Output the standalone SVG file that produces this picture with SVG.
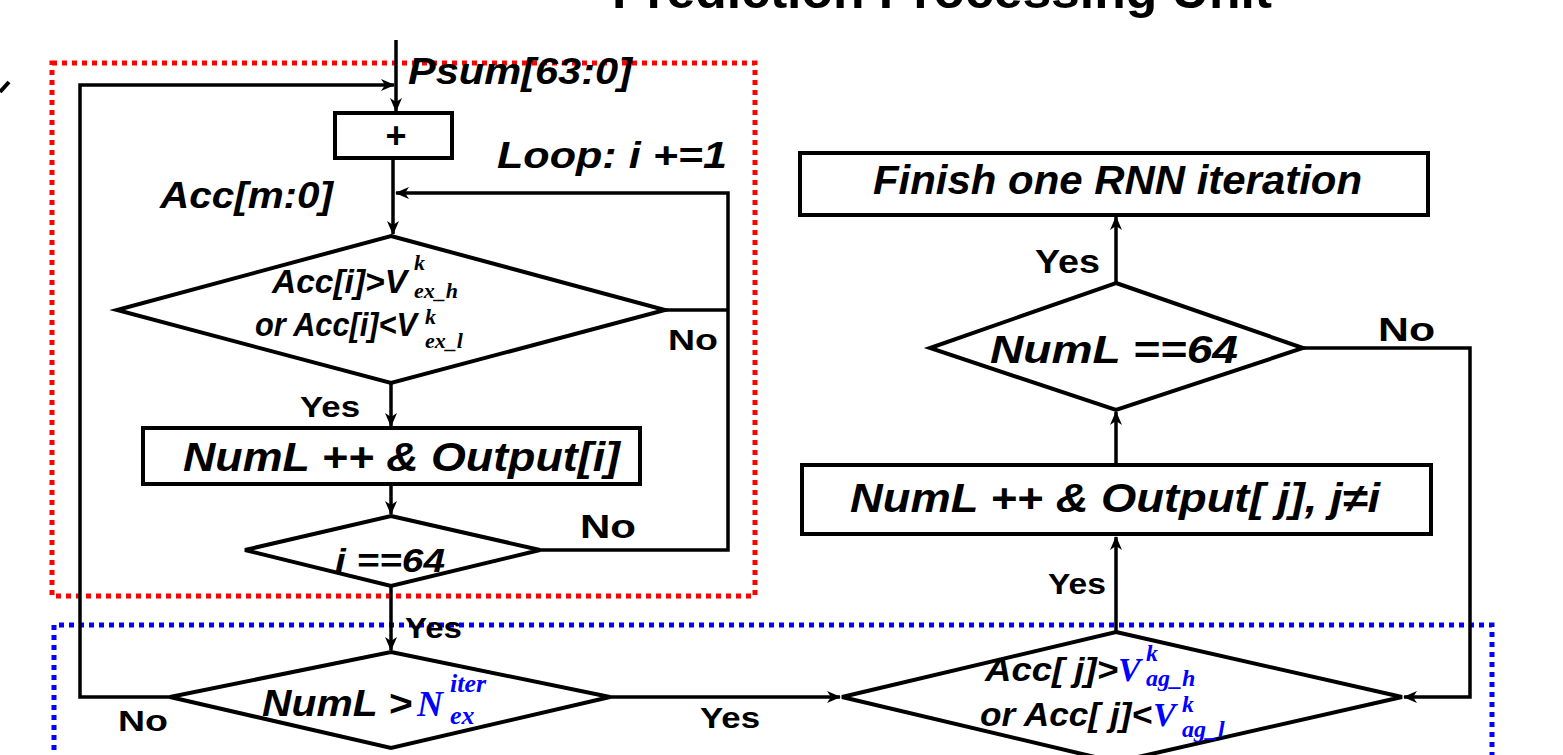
<svg xmlns="http://www.w3.org/2000/svg" width="1563" height="755" viewBox="0 0 1563 755">
<defs>
<marker id="arr" markerUnits="userSpaceOnUse" markerWidth="14" markerHeight="12" refX="13" refY="6" orient="auto">
<path d="M0,0 L14,6 L0,12 L4,6 z" fill="#000"/>
</marker>
<style>
.ln{fill:none;stroke:#000;stroke-width:3.5}
.nd{fill:#fff;stroke:#000;stroke-width:4}
.t{font-family:"Liberation Sans",Arial,sans-serif;font-weight:bold;font-style:italic;fill:#000}
.lb{font-family:"Liberation Sans",Arial,sans-serif;font-weight:bold;fill:#000}
.m{font-family:"Liberation Serif","Times New Roman",serif;font-style:italic;font-weight:bold}
.blue{fill:#0000ff}
.red{fill:none;stroke:#ff0000;stroke-width:5;stroke-dasharray:5 5}
.bl{fill:none;stroke:#0000ff;stroke-width:5;stroke-dasharray:5 5}
</style>
</defs>
<rect width="1563" height="755" fill="#fff"/>
<text class="lb" x="612" y="8" font-size="50" textLength="660" lengthAdjust="spacingAndGlyphs">Prediction Processing Unit</text>
<line x1="0" y1="92" x2="9" y2="82" stroke="#000" stroke-width="4"/>
<rect class="red" x="52" y="63" width="703" height="533"/>
<path class="bl" d="M54,760 V625 H1492 V760"/>
<g id="connectors">
<path class="ln" d="M396,40 V111" marker-end="url(#arr)"/>
<path class="ln" d="M170,697 H80 V85 H394" marker-end="url(#arr)"/>
<path class="ln" d="M393,158 V234" marker-end="url(#arr)"/>
<path class="ln" d="M540,550 H728 V193 H396" marker-end="url(#arr)"/>
<path class="ln" d="M665,310 H728"/>
<path class="ln" d="M391,383 V426" marker-end="url(#arr)"/>
<path class="ln" d="M391,484 V514" marker-end="url(#arr)"/>
<path class="ln" d="M391,586 V650" marker-end="url(#arr)"/>
<path class="ln" d="M610,697 H840" marker-end="url(#arr)"/>
<path class="ln" d="M1116,632 V537" marker-end="url(#arr)"/>
<path class="ln" d="M1116,465 V412" marker-end="url(#arr)"/>
<path class="ln" d="M1116,283 V217" marker-end="url(#arr)"/>
<path class="ln" d="M1303,348 H1470 V697 H1404" marker-end="url(#arr)"/>
<text class="t" x="408" y="84" font-size="36" textLength="224" lengthAdjust="spacingAndGlyphs">Psum[63:0]</text>
<text class="t" x="160" y="208" font-size="36" textLength="173" lengthAdjust="spacingAndGlyphs">Acc[m:0]</text>
<text class="t" x="497" y="168" font-size="36" textLength="230" lengthAdjust="spacingAndGlyphs">Loop: i +=1</text>
<text class="lb" x="668" y="350" font-size="30" textLength="50" lengthAdjust="spacingAndGlyphs">No</text>
<text class="lb" x="300" y="417" font-size="30" textLength="60" lengthAdjust="spacingAndGlyphs">Yes</text>
<text class="lb" x="580" y="538" font-size="34" textLength="56" lengthAdjust="spacingAndGlyphs">No</text>
<text class="lb" x="405" y="638" font-size="30" textLength="57" lengthAdjust="spacingAndGlyphs">Yes</text>
<text class="lb" x="118" y="731" font-size="30" textLength="50" lengthAdjust="spacingAndGlyphs">No</text>
<text class="lb" x="700" y="728" font-size="30" textLength="60" lengthAdjust="spacingAndGlyphs">Yes</text>
<text class="lb" x="1048" y="594" font-size="30" textLength="58" lengthAdjust="spacingAndGlyphs">Yes</text>
<text class="lb" x="1378" y="341" font-size="34" textLength="57" lengthAdjust="spacingAndGlyphs">No</text>
<text class="lb" x="1035" y="273" font-size="34" textLength="65" lengthAdjust="spacingAndGlyphs">Yes</text>
</g>
<g id="add">
<rect class="nd" x="335" y="113" width="117" height="45"/>
<text class="lb" x="396" y="148" font-size="36" text-anchor="middle">+</text>
</g>
<g id="cond-ex">
<polygon class="nd" points="391,236 665,310 391,383 117,310"/>
<text class="t" x="272" y="293" font-size="33" textLength="135" lengthAdjust="spacingAndGlyphs">Acc[i]&gt;V</text>
<text class="m" x="414" y="270" font-size="22">k</text>
<text class="m" x="414" y="298" font-size="22">ex_h</text>
<text class="t" x="255" y="336" font-size="33" textLength="162" lengthAdjust="spacingAndGlyphs">or Acc[i]&lt;V</text>
<text class="m" x="425" y="324" font-size="22">k</text>
<text class="m" x="425" y="348" font-size="22">ex_l</text>
</g>
<g id="out-i">
<rect class="nd" x="143" y="428" width="497" height="56"/>
<text class="t" x="183" y="471" font-size="40" textLength="437" lengthAdjust="spacingAndGlyphs">NumL ++ &amp; Output[i]</text>
</g>
<g id="cond-i64">
<polygon class="nd" points="391,516 540,550 391,586 245,550"/>
<text class="t" x="335" y="572" font-size="33" textLength="110" lengthAdjust="spacingAndGlyphs">i ==64</text>
</g>
<g id="cond-numl">
<polygon class="nd" points="391,652 610,697 391,748 170,697"/>
<text class="t" x="262" y="716" font-size="36" textLength="150" lengthAdjust="spacingAndGlyphs">NumL &gt;</text>
<text class="m blue" x="417" y="716" font-size="36">N</text>
<text class="m blue" x="450" y="692" font-size="26">iter</text>
<text class="m blue" x="450" y="724" font-size="26">ex</text>
</g>
<g id="cond-ag">
<polygon class="nd" points="1116,632 1402,697 1116,762 842,697"/>
<text class="t" x="985" y="681" font-size="33" textLength="133" lengthAdjust="spacingAndGlyphs">Acc[ j]&gt;</text>
<text class="m blue" x="1118" y="681" font-size="34">V</text>
<text class="m blue" x="1146" y="661" font-size="24">k</text>
<text class="m blue" x="1146" y="686" font-size="24">ag_h</text>
<text class="t" x="980" y="726" font-size="33" textLength="172" lengthAdjust="spacingAndGlyphs">or Acc[ j]&lt;</text>
<text class="m blue" x="1153" y="726" font-size="34">V</text>
<text class="m blue" x="1182" y="712" font-size="24">k</text>
<text class="m blue" x="1182" y="737" font-size="24">ag_l</text>
</g>
<g id="out-j">
<rect class="nd" x="802" y="465" width="629" height="69"/>
<text class="t" x="850" y="512" font-size="40" textLength="530" lengthAdjust="spacingAndGlyphs">NumL ++ &amp; Output[ j], j≠i</text>
</g>
<g id="cond-numl64">
<polygon class="nd" points="1116,283 1303,348 1116,410 930,348"/>
<text class="t" x="990" y="363" font-size="38" textLength="248" lengthAdjust="spacingAndGlyphs">NumL ==64</text>
</g>
<g id="finish">
<rect class="nd" x="800" y="153" width="628" height="62"/>
<text class="t" x="873" y="194" font-size="40" textLength="489" lengthAdjust="spacingAndGlyphs">Finish one RNN iteration</text>
</g>
</svg>
